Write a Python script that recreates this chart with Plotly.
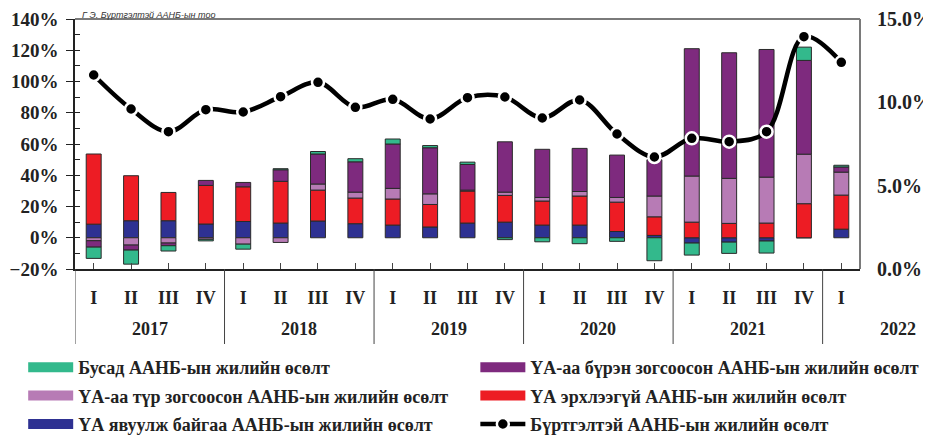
import plotly.graph_objects as go

# Улирал, он
quarters = ["I", "II", "III", "IV"] * 5 + ["I"]
years = ["2017", "2018", "2019", "2020", "2021", "2022"]
categories = [f"{2017 + i // 4} {q}" for i, q in enumerate(quarters)]

# Жилийн өсөлт, хувиар (баганууд - зүүн тэнхлэг)
ua_yavuulj = [8.7, 10.9, 10.9, 8.8, 10.4, 9.4, 10.7, 9.0, 8.1, 6.9, 9.4, 10.0, 8.1, 8.1, 4.0, 1.5, -3.4, -2.8, -2.1, 0.0, 5.5]
ua_erhleegui = [44.9, 28.8, 18.1, 24.7, 22.2, 26.7, 19.8, 16.4, 16.7, 14.4, 20.5, 17.1, 15.4, 18.6, 18.8, 11.9, 10.0, 9.2, 9.4, 21.8, 21.8]
ua_tur = [-1.9, -4.7, -3.4, -1.0, -4.1, -3.0, 3.9, 3.8, 6.8, 6.8, 0.6, 2.1, 2.3, 2.9, 3.0, 13.3, 29.5, 28.8, 29.4, 31.7, 14.7]
ua_buren = [-4.1, -3.2, -1.7, 3.2, 2.8, 7.4, 19.2, 19.4, 28.4, 29.5, 16.4, 32.2, 30.8, 27.6, 27.1, 23.2, 81.5, 80.4, 81.7, 60.0, 3.3]
busad = [-7.2, -9.0, -3.4, -1.0, -3.2, 0.7, 1.6, 2.0, 3.2, 1.4, 1.5, -1.2, -2.6, -3.8, -2.3, -14.7, -7.7, -7.2, -7.7, 8.5, 1.1]

# Бүртгэлтэй ААНБ-ын жилийн өсөлт (шугам - баруун тэнхлэг)
burtgeltei = [11.64, 9.6, 8.24, 9.56, 9.42, 10.34, 11.2, 9.7, 10.18, 9.0, 10.28, 10.32, 9.06, 10.14, 8.1, 6.72, 7.84, 7.64, 8.24, 13.94, 12.4]

FONT = "Liberation Serif"

series = [
    ("ҮА явуулж байгаа ААНБ-ын жилийн өсөлт", ua_yavuulj, "#2E3192", "legend", 3),
    ("ҮА эрхлээгүй ААНБ-ын жилийн өсөлт", ua_erhleegui, "#ED1C24", "legend2", 2),
    ("ҮА-аа түр зогсоосон ААНБ-ын жилийн өсөлт", ua_tur, "#B77BB5", "legend", 2),
    ("ҮА-аа бүрэн зогсоосон ААНБ-ын жилийн өсөлт", ua_buren, "#7E2A7E", "legend2", 1),
    ("Бусад ААНБ-ын жилийн өсөлт", busad, "#33B98C", "legend", 1),
]

fig = go.Figure()

for name, vals, color, leg, rank in series:
    fig.add_trace(go.Bar(
        x=categories, y=vals, name=name, marker_color=color,
        marker_line=dict(color="#2a2a2a", width=1),
        legendgroup=name, showlegend=False,
    ))
    # legend swatch
    fig.add_trace(go.Scatter(
        x=[None], y=[None], mode="lines", name=name,
        line=dict(color=color, width=10),
        legendgroup=name, legend=leg, legendrank=rank,
    ))

fig.add_trace(go.Scatter(
    x=categories, y=burtgeltei, yaxis="y2", mode="lines+markers",
    name="Бүртгэлтэй ААНБ-ын жилийн өсөлт",
    line=dict(color="black", width=4.5, shape="spline", smoothing=1),
    marker=dict(color="black", size=12, line=dict(color="white", width=2.5)),
    legendgroup="line", legend="legend2", legendrank=3,
))

# он хоорондын зааг шугам
shapes = []
for xv in [-0.5, 3.5, 7.5, 11.5, 15.5, 19.5]:
    shapes.append(dict(type="line", xref="x", yref="paper", x0=xv, x1=xv, y0=0, y1=-0.30,
                       line=dict(color="#444", width=1)))
shapes.append(dict(type="line", xref="paper", yref="paper", x0=0, x1=1, y0=1, y1=1,
                   line=dict(color="#7a7a7a", width=2)))
shapes.append(dict(type="line", xref="paper", yref="paper", x0=1, x1=1, y0=0, y1=1,
                   line=dict(color="#7a7a7a", width=2)))

annotations = []
year_pos = [1.5, 5.5, 9.5, 13.5, 17.5]
for yr, xp in zip(years[:-1], year_pos):
    annotations.append(dict(text=yr, x=xp, xref="x", y=-0.238, yref="paper", showarrow=False,
                            font=dict(family=FONT, size=18, color="#222", weight="bold"), yanchor="middle"))
annotations.append(dict(text=years[-1], x=1.074, xref="paper", xanchor="right", y=-0.238, yref="paper",
                        showarrow=False, yanchor="middle",
                        font=dict(family=FONT, size=18, color="#222", weight="bold")))
annotations.append(dict(text="Г Э. Бүртгэлтэй ААНБ-ын тоо", x=0.006, xref="paper", xanchor="left",
                        y=1.044, yref="paper", yanchor="top", showarrow=False,
                        font=dict(family="Liberation Sans", size=9, color="#333", style="italic")))

legend_style = dict(orientation="v", yanchor="top", xanchor="left", bgcolor="rgba(0,0,0,0)",
                    font=dict(family=FONT, size=18, color="#222", weight="bold"),
                    tracegroupgap=2, itemwidth=45, itemclick=False)

# хуудасны 8px захыг тооцсон хэмжээ
fig.update_layout(
    width=923, height=428,
    margin=dict(l=67, r=71, t=11, b=167, autoexpand=False),
    plot_bgcolor="white", paper_bgcolor="white",
    barmode="relative", bargap=0.6,
    shapes=shapes, annotations=annotations,
    font=dict(family=FONT, color="#222"),
    xaxis=dict(
        type="category", tickmode="array", tickvals=categories, ticktext=quarters,
        ticks="inside", ticklen=6, tickcolor="#444",
        showline=True, linecolor="#222", linewidth=1.5,
        tickfont=dict(family=FONT, size=18, color="#222", weight="bold"),
        ticklabelstandoff=12, showgrid=False, range=[-0.5, 20.5], automargin=False,
    ),
    yaxis=dict(
        range=[-20, 140], dtick=20, ticksuffix="%", showgrid=False, zeroline=False,
        showline=True, linecolor="#222", linewidth=1.5,
        ticks="outside", ticklen=7, tickcolor="#222",
        minor=dict(dtick=10, ticks="inside", ticklen=5, tickcolor="#222"),
        tickfont=dict(family=FONT, size=19, color="#222", weight="bold"),
        ticklabelstandoff=4, automargin=False,
    ),
    yaxis2=dict(
        overlaying="y", side="right", range=[0, 15], tickvals=[0, 5, 10, 15],
        ticktext=["0.0%", "5.0%", "10.0%", "15.0%"],
        showgrid=False, zeroline=False, showline=False,
        ticks="", tickfont=dict(family=FONT, size=20, color="#222", weight="bold"),
        ticklabelstandoff=16, automargin=False,
    ),
    legend=dict(x=-0.066, y=-0.32, **legend_style),
    legend2=dict(x=0.510, y=-0.32, **legend_style),
)

fig.write_html("out.html")
